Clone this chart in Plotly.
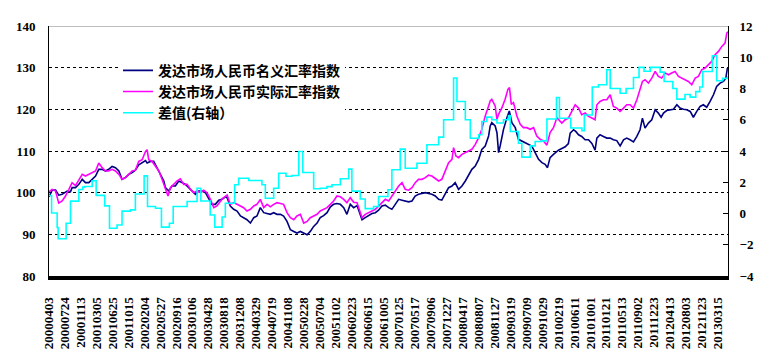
import plotly.graph_objects as go

# ---- tick labels (one every 80 trading days) ----
tick_labels = ["20000403", "20000724", "20001113", "20010305", "20010625", "20011015",
               "20020204", "20020527", "20020916", "20030106", "20030428", "20030818",
               "20031208", "20040329", "20040719", "20041108", "20050228", "20050704",
               "20051102", "20060223", "20060615", "20061005", "20070125", "20070517",
               "20070906", "20071227", "20080417", "20080807", "20081127", "20090319",
               "20090709", "20091029", "20100219", "20100611", "20101001", "20110121",
               "20110513", "20110902", "20111223", "20120413", "20120803", "20121123",
               "20130315"]
label_step = 80
n_days = 3412

# ---- nominal index (trading-day index, value) ----
nominal_idx = [0, 16, 33, 49, 66, 91, 108, 116, 133, 150, 167, 183, 200, 217, 234, 250, 267, 284,
               300, 317, 334, 351, 367, 384, 401, 418, 434, 451, 468, 485, 493, 510, 526, 543, 560,
               577, 585, 602, 618, 635, 652, 669, 686, 702, 719, 736, 752, 769, 786, 803, 819,
               836, 853, 870, 886, 895, 911, 928, 945, 962, 978, 995, 1012, 1029, 1045, 1062,
               1079, 1096, 1112, 1129, 1146, 1163, 1179, 1196, 1213, 1230, 1246, 1263, 1280, 1297,
               1313, 1330, 1347, 1363, 1380, 1397, 1414, 1430, 1447, 1464, 1481, 1497, 1514, 1531,
               1548, 1564, 1573, 1589, 1606, 1623, 1640, 1656, 1673,
               1690, 1707, 1723, 1740, 1757, 1774, 1790, 1807, 1824, 1840, 1857, 1874, 1891, 1907,
               1924, 1941, 1958, 1974, 1991, 2008, 2025, 2041, 2058, 2075, 2092, 2108, 2125, 2142,
               2159, 2175, 2192, 2209, 2217, 2225, 2242, 2251, 2259, 2267, 2284, 2301, 2313, 2326,
               2343, 2359, 2376, 2393, 2410, 2426, 2443, 2460, 2477, 2493, 2505, 2518, 2535,
               2560, 2577, 2594, 2610, 2619, 2636, 2647, 2661, 2677, 2694, 2711, 2728, 2744, 2753,
               2769, 2786, 2803, 2820, 2836, 2853, 2870, 2887, 2903, 2920, 2937, 2954, 2970, 2982,
               2995, 3012, 3029, 3046, 3062, 3076, 3088, 3104, 3121, 3138, 3155, 3171, 3188, 3205,
               3222, 3238, 3255, 3272, 3288, 3305, 3322, 3339, 3355, 3372, 3389, 3401, 3409, 3412]
nominal_val = [99.0, 100.6, 100.6, 99.4, 99.6, 100.4, 100.2, 101.2, 101.2, 102.0, 103.2, 102.4, 102.4,
               103.3, 104.0, 105.6, 105.6, 105.2, 105.6, 106.3, 106.0, 105.2, 103.2, 103.6, 104.4,
               104.8, 105.4, 106.7, 107.1, 107.7, 107.1, 107.5, 107.5, 106.0, 104.4, 102.8, 101.2,
               100.4, 101.6, 101.6, 102.8, 102.4, 102.0, 101.2, 100.4, 99.6, 100.4, 100.4, 100.0,
               98.4, 97.2,
               97.2, 98.2, 98.4, 99.0, 98.8, 96.8, 96.0, 95.6, 94.4, 94.0, 93.5, 92.7, 94.0, 94.4,
               96.4, 95.2, 95.0, 94.8, 95.2, 94.8, 94.8, 94.4, 93.1, 91.1, 90.7, 90.3, 90.7, 90.2,
               89.9, 90.7, 91.9, 92.7, 94.0, 94.5, 95.2, 96.6, 97.2, 97.4, 97.2, 96.4, 94.8, 97.2,
               96.4, 96.9, 94.8, 93.5, 94.0, 94.5, 95.0, 95.2, 95.8, 96.8,
               97.0, 96.4, 96.0, 97.2, 98.4, 98.2, 98.0, 97.8, 98.0, 99.2, 99.6, 99.8, 100.0, 99.8,
               99.6, 99.2, 98.4, 98.2, 99.6, 101.2, 101.6, 102.4, 100.8, 101.6, 102.8, 104.0, 105.6,
               106.4, 108.0, 110.4, 111.2, 113.6, 116.0, 116.8, 116.0, 114.4, 109.6, 111.2, 115.2,
               118.0, 119.6, 116.8, 115.6, 112.8, 112.4, 112.0, 111.6, 111.2, 109.6, 108.0, 107.2,
               106.8, 106.0, 108.4, 109.2,
               110.2, 110.6, 111.0, 111.8, 114.3, 115.1, 114.7, 113.9, 113.5, 112.7, 112.7, 111.8,
               110.2, 113.1, 113.9, 113.5, 113.1, 113.1, 112.7, 112.5, 111.2, 112.7, 113.1, 112.7,
               112.2, 113.5, 115.1, 117.9, 115.5, 116.7, 117.5, 119.9, 119.1, 118.1, 119.1, 119.7,
               119.9, 120.0, 121.1, 120.3, 120.0, 119.9, 119.5, 118.1, 119.5, 120.7, 121.1, 120.5,
               121.9, 123.5, 125.5, 126.3, 126.7, 127.5, 129.9, 129.6]

# ---- real index ----
real_idx = [0, 16, 33, 49, 66, 83, 100, 116, 133, 150, 167, 183, 200, 217, 234, 250, 267, 284, 300,
            317, 334, 351, 367, 384, 401, 418, 434, 451, 468, 485, 493, 501, 518, 535, 552, 568,
            585, 598, 610, 627, 644, 660, 677, 694, 711, 727, 744, 761, 778, 794, 811, 828, 844,
            870, 886, 895, 911, 928, 945, 962, 978, 995, 1012, 1029, 1045, 1062, 1079, 1096, 1112,
            1129, 1146, 1163, 1179, 1196, 1213, 1230, 1246, 1263, 1280, 1297, 1313, 1330, 1347,
            1363, 1380, 1397, 1414, 1430, 1447, 1464, 1481, 1497, 1514, 1531, 1548, 1564, 1573,
            1589, 1606, 1623, 1640, 1656, 1673,
            1690, 1707, 1723, 1740, 1757, 1774, 1790, 1807, 1824, 1840, 1857, 1874, 1891, 1907,
            1924, 1941, 1958, 1974, 1991, 2008, 2025, 2033, 2045, 2058, 2075, 2092, 2108, 2125,
            2142, 2159, 2175, 2192, 2209, 2217, 2225, 2234, 2242, 2251, 2259, 2276, 2292, 2306,
            2314, 2323, 2334, 2351, 2368, 2384, 2401, 2418, 2435, 2451, 2468, 2485, 2502, 2518,
            2535, 2552,
            2577, 2594, 2610, 2627, 2644, 2661, 2677, 2694, 2711, 2728, 2744, 2753, 2769, 2786,
            2803, 2820, 2836, 2853, 2870, 2887, 2903, 2920, 2937, 2954, 2970, 2982, 2995, 3012,
            3029, 3046, 3062, 3079, 3096, 3113, 3129, 3146, 3163, 3180, 3196, 3213, 3230, 3247,
            3263, 3280, 3297, 3314, 3330, 3347, 3364, 3381, 3397, 3406, 3412]
real_val = [100.2, 100.8, 100.4, 97.5, 98.0, 99.2, 100.8, 102.4, 101.7, 103.2, 104.4, 104.0, 104.4,
            104.8, 105.2, 107.1, 106.0, 105.2, 105.2, 105.6, 105.2, 104.4, 103.2, 103.6, 104.4,
            105.2, 105.4, 107.5, 107.9, 109.9, 110.3, 107.9, 107.5, 106.3, 105.2, 103.2, 100.8,
            99.2, 101.2, 102.0, 102.8, 103.3, 102.0, 102.0, 100.8, 100.0, 100.4, 100.0, 100.6,
            100.0, 98.4, 96.4, 96.8,
            98.5, 99.2, 99.4, 97.2, 97.6, 97.2, 96.8, 96.4, 95.6, 96.0, 96.8, 97.2, 98.4, 96.4,
            97.2, 96.6, 97.2, 97.6, 97.4, 97.2, 95.2, 94.0, 93.5, 94.4, 94.8, 92.7, 93.1, 94.0,
            94.4, 94.8, 95.6, 96.0, 96.4, 97.2, 98.0, 99.2, 99.0, 98.4, 97.6, 98.8, 97.7, 97.6,
            95.2, 94.0, 94.8, 95.3, 95.6, 96.0, 96.8, 97.6,
            98.4, 98.0, 99.2, 100.4, 101.6, 102.4, 100.8, 100.6, 101.2, 102.4, 103.2, 103.2,
            103.6, 104.2, 104.0, 103.4, 102.8, 103.2, 105.2, 107.2, 108.0, 110.8, 108.8, 108.4,
            109.2, 109.6, 110.0, 110.4, 111.6, 113.2, 115.2, 118.4, 120.8, 122.0, 122.4, 121.6,
            120.8, 117.6, 118.8, 120.4, 122.4, 124.8, 125.2, 121.2, 121.6, 118.4, 116.4, 115.6,
            115.6, 115.2, 115.6, 113.6, 112.8, 112.4, 111.4, 114.4, 115.6, 118.0,
            116.7, 117.5, 117.9, 119.5, 121.1, 120.3, 118.7, 119.1, 118.3, 117.9, 117.5, 121.1,
            121.9, 122.3, 122.3, 123.5, 120.7, 120.3, 119.5, 120.3, 121.1, 121.1, 120.3, 122.3,
            124.7, 126.7, 127.1, 126.3, 127.5, 129.1, 127.9, 127.5, 128.7, 128.3, 128.7, 129.1,
            127.9, 127.5, 127.1, 126.7, 125.9, 127.5, 127.9, 129.5, 129.9, 130.7, 131.5, 133.1,
            133.9, 135.1, 135.9, 138.3, 138.6]

# ---- difference (right axis), step series ----
diff_idx = [0, 13, 41, 46, 86, 108, 150, 170, 180, 217, 237, 280, 304, 342, 367, 409, 434, 478,
            495, 535, 565, 605, 624, 694, 744, 763, 810, 833, 870, 886, 933, 953, 1004, 1070,
            1087, 1129, 1154, 1191, 1221, 1255, 1275, 1330, 1363, 1397, 1422, 1464, 1506, 1522,
            1564, 1589, 1631, 1656, 1703, 1723, 1765, 1790, 1849, 1899, 1958, 1983, 2033, 2050,
            2092, 2117, 2159, 2175, 2200, 2225, 2251, 2284, 2309, 2318, 2359, 2376, 2418, 2443,
            2475, 2502, 2550, 2565, 2622, 2678, 2690, 2730, 2761, 2803, 2820, 2870, 2900, 2937,
            2965, 2990, 3021, 3071, 3091, 3135, 3155, 3196, 3222, 3250, 3270, 3285, 3333, 3355,
            3385, 3412]
diff_val = [1.15, 0.03, -0.9, -1.62, -0.62, 0.79, 1.54, 1.69, 1.73, 2.1, 1.16, 0.49, -0.94, -0.74,
            0.15, 0.23, 1.25, 2.41, 0.45, 0.34, -0.87, -0.62, 0.45, 0.77, 1.62, 0.8, -0.1, -0.87,
            -0.22, 0.66, 1.84, 2.26, 2.11, 1.84, 0.98, 1.62, 2.58, 2.38, 2.43, 3.97, 2.62, 1.58,
            1.62, 1.72, 1.84, 2.22, 2.84, 1.43, 0.93, 0.31, 0.45, 1.09, 1.52, 2.8, 4.12, 2.9, 3.22,
            4.4, 4.89, 6.0, 8.67, 7.17, 6.0, 4.82, 5.04, 5.89, 6.17, 6.0, 5.79, 6.0, 6.25, 5.25,
            4.5, 3.61, 4.33, 4.61, 4.65, 6.05, 7.42, 6.1, 5.47, 5.3, 6.3, 8.1, 8.24, 9.2, 8.0, 7.7,
            8.0, 8.7, 9.35, 9.1, 9.35, 9.05, 8.45, 8.0, 7.32, 7.62, 7.45, 7.8, 8.1, 9.09, 10.1,
            8.5, 8.65, 8.8]

names = ["发达市场人民币名义汇率指数", "发达市场人民币实际汇率指数", "差值(右轴）"]
colors = ["#000080", "#FF00FF", "#00FFFF"]

serif = dict(family="Liberation Serif, Times New Roman, serif", size=13, color="black", weight="bold")

fig = go.Figure()
fig.add_trace(go.Scatter(x=nominal_idx, y=nominal_val, name=names[0], mode="lines",
                         line=dict(color=colors[0], width=1.6)))
fig.add_trace(go.Scatter(x=real_idx, y=real_val, name=names[1], mode="lines",
                         line=dict(color=colors[1], width=1.6)))
fig.add_trace(go.Scatter(x=diff_idx, y=diff_val, name=names[2], mode="lines", yaxis="y2",
                         line=dict(color=colors[2], width=1.6, shape="hv")))

fig.update_layout(
    width=776, height=353,
    margin=dict(l=49, r=48, t=26, b=77),
    paper_bgcolor="white", plot_bgcolor="white",
    showlegend=True,
    legend=dict(x=0.1016, y=0.885, xanchor="left", yanchor="top", bgcolor="white",
                font=dict(family="Noto Sans CJK SC", size=14, color="black", weight="bold"),
                itemwidth=30, tracegroupgap=0),
    xaxis=dict(range=[0, n_days], tickmode="array",
               tickvals=[i * label_step for i in range(len(tick_labels))],
               ticktext=tick_labels, tickangle=-90, tickfont=serif,
               showline=True, linecolor="black", linewidth=4, showgrid=False, zeroline=False,
               ticks="", ticklabelstandoff=12, automargin=False),
    yaxis=dict(range=[80, 140], tick0=80, dtick=10, showgrid=True, gridcolor="black",
               griddash="3px,3px", gridwidth=1, showline=True, linecolor="black", linewidth=1,
               zeroline=False, ticks="", tickfont=serif, ticklabelstandoff=10, automargin=False),
    yaxis2=dict(range=[-4, 12], tick0=-4, dtick=2, overlaying="y", side="right", showgrid=False,
                showline=True, linecolor="black", linewidth=1, zeroline=False, ticks="inside",
                ticklen=5, tickcolor="black", tickfont=serif, ticklabelstandoff=8,
                automargin=False),
    shapes=[dict(type="line", xref="paper", yref="y", x0=0, x1=1, y0=140, y1=140,
                 line=dict(color="#808080", width=1))],
)

fig.write_html("out.html")
